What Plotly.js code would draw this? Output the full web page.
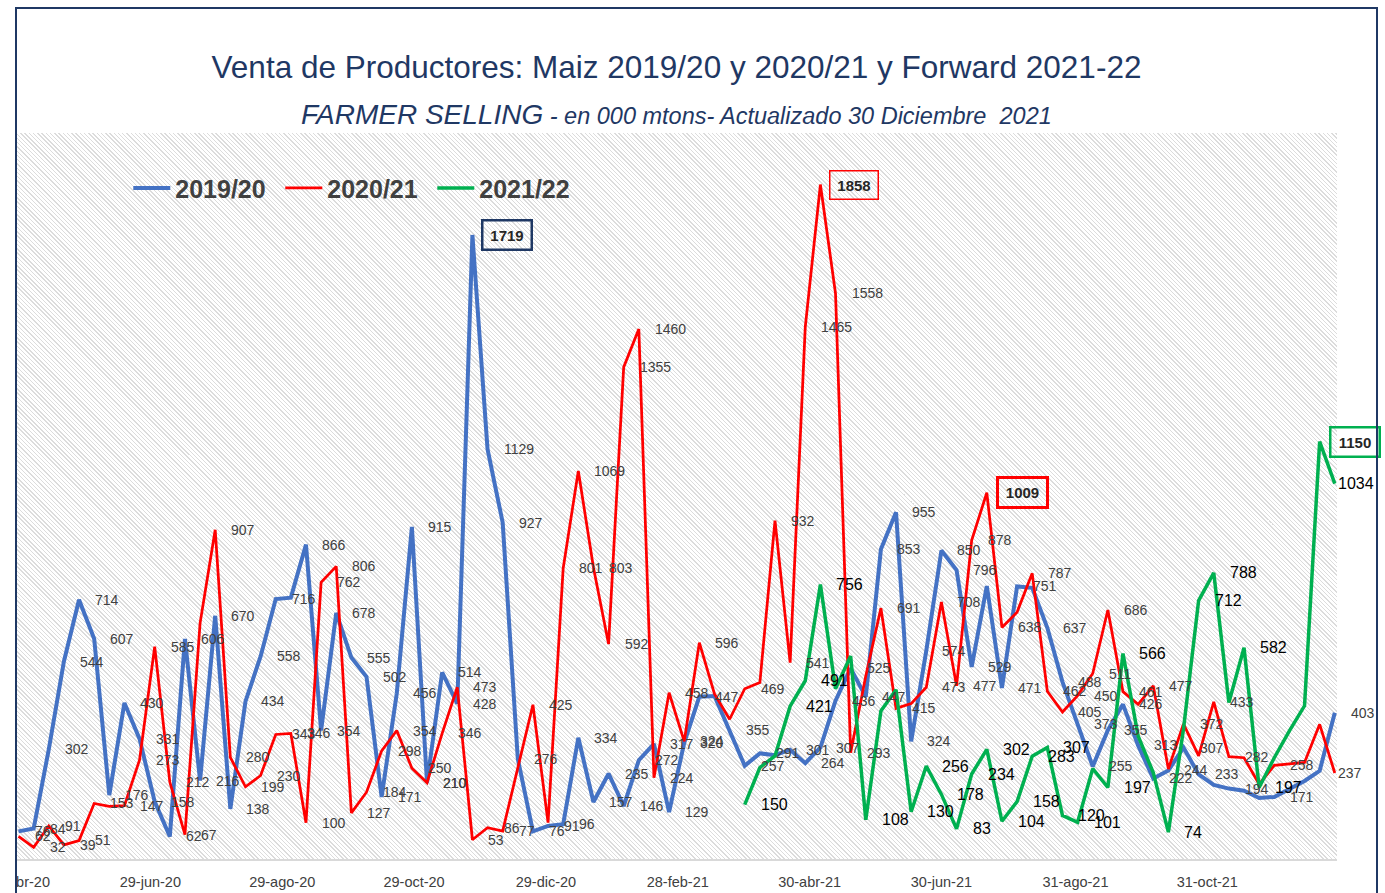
<!DOCTYPE html>
<html><head><meta charset="utf-8">
<script src="https://cdn.plot.ly/plotly-3.0.1.min.js"></script>
<style>
html,body{margin:0;padding:0;background:#fff;overflow:hidden}
#wrap{position:relative;width:1385px;height:893px;background:#fff}
#hatch{position:absolute;left:16px;top:133px;width:1321px;height:726px;
 background:repeating-linear-gradient(45deg,#dcdcdc 0px,#dcdcdc 1px,#ffffff 1px,#ffffff 3px);}
#chart{position:absolute;left:0;top:0;width:1385px;height:893px}
#cut{position:absolute;left:0;top:0;width:15px;height:893px;background:#fff}
#frame{position:absolute;left:15px;top:7px;width:1359px;height:900px;border:2px solid #1f3864;pointer-events:none}
</style></head>
<body><div id="wrap"><div id="hatch"></div><div id="chart"></div><div id="cut"></div><div id="frame"></div></div>
<script>
// ---- data (weekly, first week = 29-abr-2020) ----
const firstWeek = '2020-04-29';
const nWeeks = 88;
const greenStart = 48;               // week index where 2021/22 starts
const seriesNames = ['2019/20', '2020/21', '2021/22'];

const s1920 = [76, 84, 302, 544, 714, 607, 176, 430, 331, 158,
  62, 606, 216, 670, 138, 434, 558, 716, 720, 866,
  354, 678, 555, 502, 171, 456, 915, 210, 514, 428,
  1719, 1129, 927, 276, 76, 91, 96, 334, 157, 235,
  146, 272, 317, 129, 320, 447, 449, 355, 257, 291,
  286, 301, 264, 307, 436, 525, 447, 853, 955, 324,
  574, 850, 796, 529, 752, 471, 751, 747, 637, 488,
  373, 255, 355, 426, 313, 222, 244, 307, 233, 204,
  194, 188, 168, 171, 193, 215, 243, 403];

const s2021 = [62, 32, 91, 39, 51, 153, 145, 147, 273, 585,
  212, 67, 650, 907, 280, 199, 230, 343, 346, 100,
  762, 806, 127, 184, 298, 354, 250, 210, 346, 473,
  53, 86, 77, 255, 425, 100, 801, 1069, 803, 592,
  1355, 1460, 224, 458, 324, 596, 455, 385, 469, 486,
  932, 541, 1465, 1858, 1558, 293, 504, 691, 415, 428,
  473, 708, 477, 878, 1009, 638, 680, 787, 462, 405,
  450, 511, 686, 461, 426, 477, 248, 372, 284, 433,
  282, 279, 206, 258, 263, 266, 371, 237];

const s2122 = [150, 252, 284, 421, 491, 756, 469, 559, 108, 408,
  466, 130, 256, 178, 83, 234, 302, 104, 158, 283,
  307, 120, 101, 249, 197, 566, 339, 238, 74, 358,
  712, 788, 431, 582, 197, 279, 353, 422, 1150, 1034];

// week indexes whose data label is not shown in the original
const hide1920 = [18, 46, 50, 64, 67, 79, 81, 82, 84, 85, 86];
const hide2021 = [6, 12, 33, 35, 46, 47, 49, 56, 59, 66, 74, 76, 78, 81, 82, 84, 85, 86];
const hide2122 = [49, 50, 54, 55, 57, 58, 71, 74, 75, 77, 80, 83, 84, 85];
// labels sitting right against their point (last week of 2020/21 and 2021/22)
const tight2021 = [87];
const tight2122 = [87];

// boxed (highlighted) labels: series, week index
const boxed = [
  {s: 0, i: 30, color: '#1f3864', w: 2.5},
  {s: 1, i: 53, color: '#ff0000', w: 1.5},
  {s: 1, i: 64, color: '#ff0000', w: 3},
  {s: 2, i: 86, color: '#00b050', w: 2.5}
];

const tickDates = ['2020-04-29', '2020-06-29', '2020-08-29', '2020-10-29', '2020-12-29',
  '2021-02-28', '2021-04-30', '2021-06-30', '2021-08-31', '2021-10-31'];
const tickLabels = ['29-abr-20', '29-jun-20', '29-ago-20', '29-oct-20', '29-dic-20',
  '28-feb-21', '30-abr-21', '30-jun-21', '31-ago-21', '31-oct-21'];

// ---- build ----
const F = "'Liberation Sans', Arial, sans-serif";
const weeks = [];
{
  const t0 = Date.parse(firstWeek + 'T00:00:00Z');
  for (let k = 0; k < nWeeks; k++) weeks.push(new Date(t0 + k * 7 * 86400000).toISOString().slice(0, 10));
}
const colors = ['#4472c4', '#ff0000', '#00b050'];
const widths = [4, 2.75, 3.5];
const xs = [weeks, weeks, weeks.slice(greenStart)];
const ys = [s1920, s2021, s2122];
const offs = [0, 0, greenStart];
const hides = [hide1920, hide2021, hide2122];
const tights = [[], tight2021, tight2122];

const traces = ys.map((y, s) => ({
  type: 'scatter', mode: 'lines', x: xs[s], y: y, name: seriesNames[s],
  line: {color: colors[s], width: widths[s]}, hoverinfo: 'skip'
}));

const ann = [];
ys.forEach((y, s) => {
  y.forEach((v, k) => {
    const wi = k + offs[s];
    if (hides[s].includes(wi)) return;
    if (boxed.some(b => b.s === s && b.i === wi)) return;
    ann.push({
      x: xs[s][k], y: v, xref: 'x', yref: 'y', text: String(v), showarrow: false,
      xanchor: 'left', yanchor: 'middle', xshift: tights[s].includes(wi) ? 1 : 14,
      font: s === 2 ? {family: F, size: 16, color: '#000000'} : {family: F, size: 14, color: '#404040'}
    });
  });
});
boxed.forEach(b => {
  const k = b.i - offs[b.s];
  ann.push({
    x: xs[b.s][k], y: ys[b.s][k], xref: 'x', yref: 'y', text: '<b>' + ys[b.s][k] + '</b>',
    showarrow: false, xanchor: 'left', yanchor: 'middle', xshift: 9,
    width: 41, height: 21, borderpad: 3, bordercolor: b.color, borderwidth: b.w,
    font: {family: F, size: 15, color: '#262626'}
  });
});
ann.push({
  xref: 'paper', yref: 'paper', x: 0.5, y: 1.026, xanchor: 'center', yanchor: 'middle', showarrow: false,
  text: '<i><span style="font-size:28px">FARMER SELLING</span> - en 000 mtons- Actualizado 30 Diciembre\u00a0 2021</i>',
  font: {family: F, size: 23.5, color: '#1f3864'}
});

const layout = {
  width: 1385, height: 893,
  margin: {l: 16, r: 48, t: 133, b: 34},
  paper_bgcolor: 'rgba(0,0,0,0)', plot_bgcolor: 'rgba(0,0,0,0)',
  title: {text: 'Venta de Productores: Maiz 2019/20 y 2020/21 y Forward 2021-22',
    font: {family: F, size: 31.5, color: '#1f3864'}, x: 0.5, xref: 'paper', xanchor: 'center',
    y: 1 - 67 / 893, yref: 'container', yanchor: 'middle'},
  showlegend: true,
  legend: {orientation: 'h', x: 0.085, y: 0.924, xanchor: 'left', yanchor: 'middle',
    bgcolor: 'rgba(0,0,0,0)', itemwidth: 37, entrywidth: 100, entrywidthmode: 'pixels',
    font: {family: F, size: 25, color: '#404040', weight: 'bold'}},
  xaxis: {type: 'date', range: ['2020-04-27 20:00', '2021-12-30 00:30'],
    tickmode: 'array', tickvals: tickDates, ticktext: tickLabels, ticklabeloverflow: 'allow',
    showgrid: false, zeroline: false, showline: true, linecolor: '#d9d9d9', linewidth: 1.5,
    ticks: 'outside', ticklen: 9, tickcolor: 'rgba(0,0,0,0)',
    tickfont: {family: F, size: 14.5, color: '#404040'}, fixedrange: true},
  yaxis: {range: [0, 2000], visible: false, fixedrange: true},
  annotations: ann
};
Plotly.newPlot('chart', traces, layout, {displayModeBar: false, staticPlot: true});
</script>
</body></html>
